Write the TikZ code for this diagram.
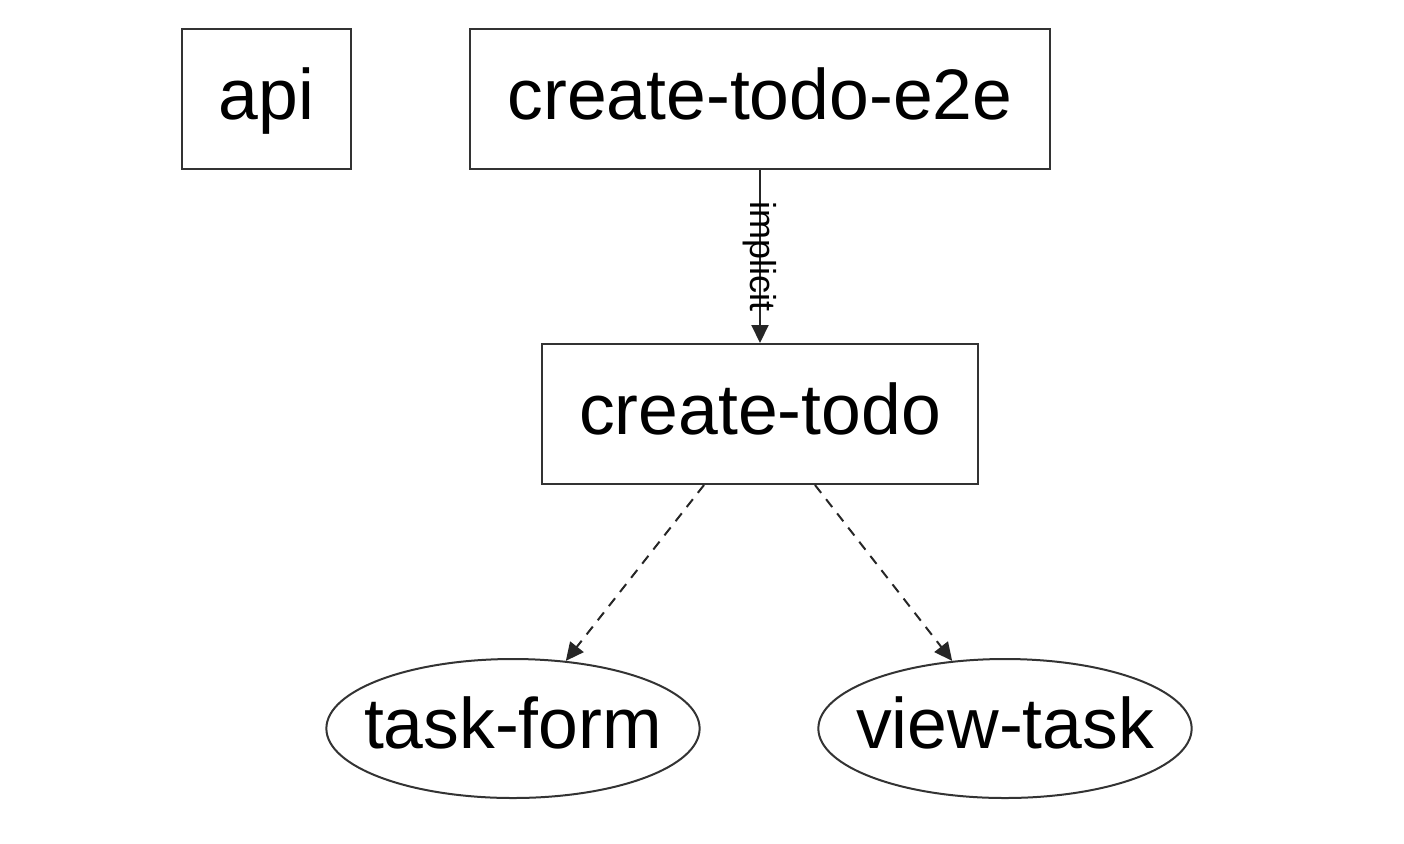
\documentclass[tikz,border=0pt]{standalone}
\usepackage{fontspec}
\setmainfont{Liberation Sans}
\usepackage{tikz}
\usetikzlibrary{arrows.meta, shapes.geometric}

\tikzset{
	pkgbox/.style = {draw=black!80, line width=1pt, rectangle, inner sep=0pt, minimum height=70pt, text height=25pt, text depth=5pt, font=\fontsize{35.75}{40}\selectfont},
	pkgoval/.style = {draw=black!80, line width=1pt, ellipse, inner ysep=0pt, inner xsep=-8.5pt, minimum height=69.5pt, text height=25pt, text depth=5pt, font=\fontsize{35.75}{40}\selectfont},
	dep/.style = {draw=black!85, line width=1pt, -{Triangle[length=9pt, width=8.5pt]}},
	weakdep/.style = {dep, dash pattern=on 5pt off 4pt},
}

\begin{document}
\begin{tikzpicture}[x=0.5pt, y=-0.5pt]
			\useasboundingbox (0,0) rectangle (1404,843);
			\node [pkgbox, minimum width=84.5pt] (api) at (266.5,99) {api};
			\node [pkgbox, minimum width=290pt] (e2e) at (760,99) {create-todo-e2e};
			\node [pkgbox, minimum width=218pt] (ct) at (760,414) {create-todo};
			\node [pkgoval] (tf) at (513,728.5) {task-form};
			\node [pkgoval] (vt) at (1005,728.5) {view-task};
			\draw [dep] (e2e) -- (ct) node [midway, rotate=-90, font=\fontsize{18}{20}\selectfont] {implicit};
			\draw [weakdep] ([xshift=-28pt]ct.south) -- (tf.52);
			\draw [weakdep] ([xshift=27.5pt]ct.south) -- (vt.128);
		\end{tikzpicture}
\end{document}
